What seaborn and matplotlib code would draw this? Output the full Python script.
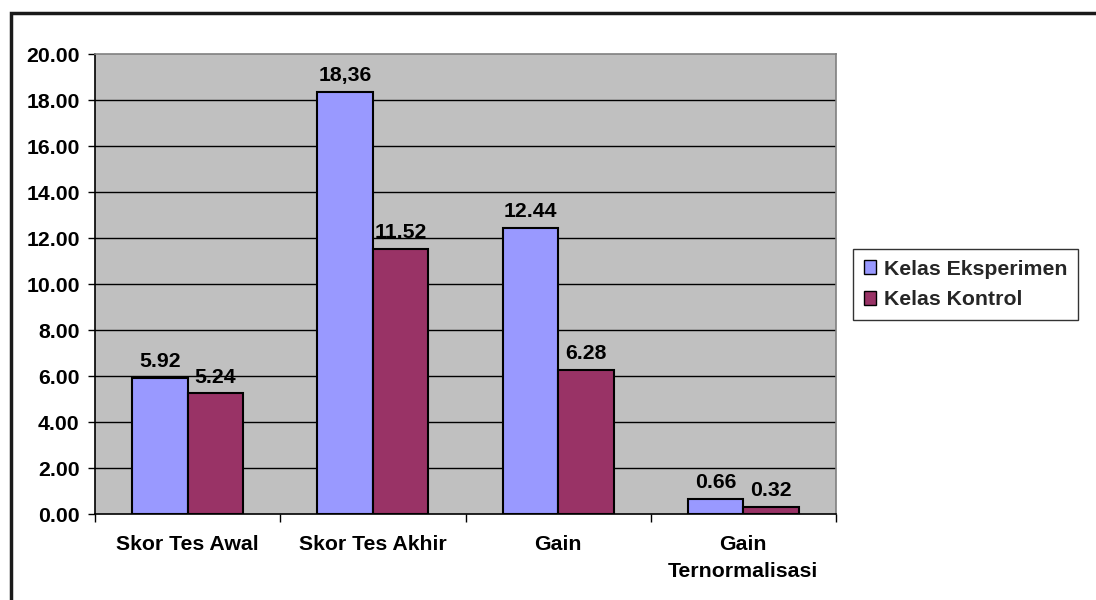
import matplotlib
matplotlib.use("Agg")
import matplotlib.pyplot as plt
from matplotlib.patches import Rectangle
import seaborn as sns
import pandas as pd

categories = ["Skor Tes Awal", "Skor Tes Akhir", "Gain", "Gain\nTernormalisasi"]
series_names = ["Kelas Eksperimen", "Kelas Kontrol"]
eksperimen = [5.92, 18.36, 12.44, 0.66]
kontrol = [5.24, 11.52, 6.28, 0.32]
eksperimen_labels = ["5.92", "18,36", "12.44", "0.66"]
kontrol_labels = ["5.24", "11.52", "6.28", "0.32"]
y_ticks = [0, 2, 4, 6, 8, 10, 12, 14, 16, 18, 20]

colors = ["#9999FF", "#993366"]

df = pd.DataFrame({
    "kategori": categories * 2,
    "kelas": [series_names[0]] * 4 + [series_names[1]] * 4,
    "nilai": eksperimen + kontrol,
})

sns.set_theme(style="white")
plt.rcParams["font.family"] = ["Liberation Sans", "DejaVu Sans"]
plt.rcParams["font.weight"] = "bold"

FS = 15.3
W, H = 1096, 600
fig = plt.figure(figsize=(W / 100, H / 100), dpi=100)
fig.patch.set_facecolor("white")

# plot area in pixel coordinates
left, right, top, bottom = 95, 836, 54, 514
ax = fig.add_axes([left / W, 1 - bottom / H, (right - left) / W, (bottom - top) / H])
ax.set_facecolor("#C0C0C0")

sns.barplot(data=df, x="kategori", y="nilai", hue="kelas", order=categories,
            hue_order=series_names, palette=colors, width=0.6,
            edgecolor="black", linewidth=1.5, saturation=1, ax=ax, zorder=3)

ax.set_ylim(0, 20)
ax.set_xlim(-0.5, 3.5)
ax.set_yticks(y_ticks)
ax.set_yticklabels([f"{v:.2f}" for v in y_ticks], fontsize=FS, fontweight="bold")
ax.set_xlabel("")
ax.set_ylabel("")

# horizontal gridlines
for v in y_ticks[1:-1]:
    ax.axhline(v, color="black", linewidth=1, zorder=1)

# category labels centered, ticks at category boundaries
ax.set_xticks([0, 1, 2, 3])
ax.set_xticklabels(categories, fontsize=FS, fontweight="bold", linespacing=1.55)
ax.tick_params(axis="x", which="major", length=0, pad=15)
ax.set_xticks([-0.5, 0.5, 1.5, 2.5, 3.5], minor=True)
ax.tick_params(axis="x", which="minor", length=6, width=1, color="black", direction="out")
ax.tick_params(axis="y", length=5, width=1, color="black", direction="out", pad=6)
ax.tick_params(axis="both", colors="black", labelcolor="black")
ax.tick_params(axis="x", which="minor", bottom=True)
ax.tick_params(axis="y", left=True)

for side in ["left", "bottom"]:
    ax.spines[side].set_color("black")
    ax.spines[side].set_linewidth(1.2)
for side in ["top", "right"]:
    ax.spines[side].set_color("#808080")
    ax.spines[side].set_linewidth(1.2)

# value labels over the bars
for container, labels in zip(ax.containers, [eksperimen_labels, kontrol_labels]):
    ax.bar_label(container, labels=labels, padding=5, fontsize=FS,
                 fontweight="bold", color="black")

# legend
handles, lbls = ax.get_legend_handles_labels()
ax.get_legend().remove()
leg = fig.legend(handles, lbls, loc="upper left",
                 bbox_to_anchor=(853 / W, 1 - 249 / H),
                 prop={"size": FS, "weight": "bold"},
                 frameon=True, fancybox=False, shadow=False,
                 handlelength=0.6, handleheight=0.6, handletextpad=0.35,
                 labelspacing=0.55, borderpad=0.5, borderaxespad=0)
leg.get_frame().set_edgecolor("black")
leg.get_frame().set_linewidth(1)
for h in leg.legend_handles:
    h.set_edgecolor("black")
    h.set_linewidth(1)

# chart area border
fig.patches.append(Rectangle((11 / W, -0.2), 1.2, 1 - 13 / H + 0.2,
                             transform=fig.transFigure, fill=False,
                             edgecolor="#1a1a1a", linewidth=2.5, zorder=0))

fig.savefig("out.png", dpi=100)
